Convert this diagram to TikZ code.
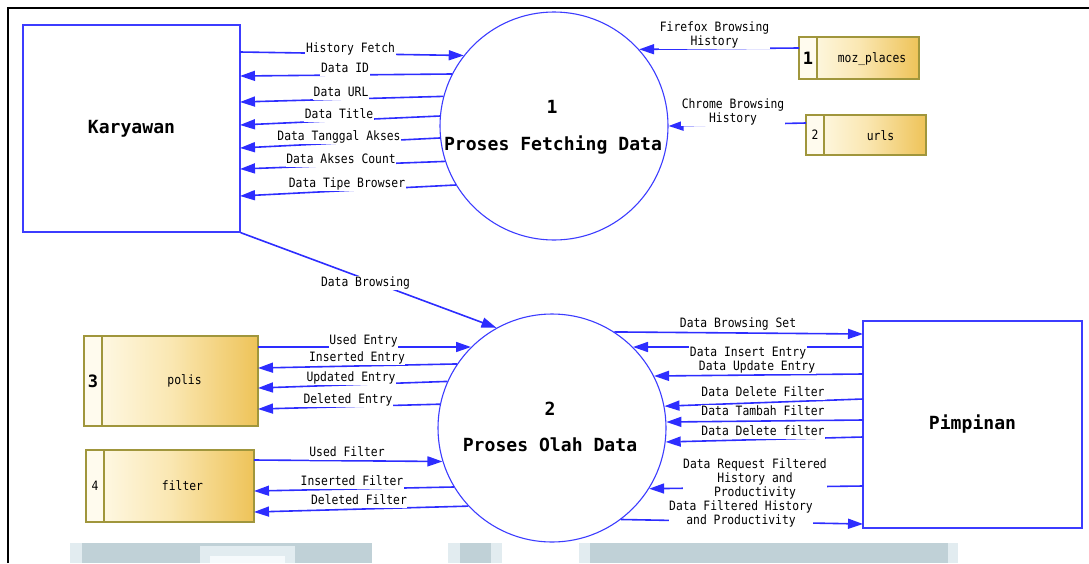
\documentclass[tikz,border=0pt]{standalone}
\usepackage{fontspec}
\setmonofont{DejaVu Sans Mono}
\newfontfamily\smallmono{DejaVu Sans Mono}[FakeStretch=0.88]
\usetikzlibrary{arrows.meta}
\definecolor{flowblue}{RGB}{45,45,255}
\definecolor{edgeblue}{RGB}{60,60,255}
\definecolor{storeedge}{RGB}{160,150,60}
\definecolor{storeL}{RGB}{255,252,238}
\definecolor{storeM}{RGB}{250,231,178}
\definecolor{storeR}{RGB}{238,195,88}
\definecolor{numfill}{RGB}{255,251,238}
\definecolor{haze}{RGB}{192,209,215}
\definecolor{hazelight}{RGB}{226,236,240}
\definecolor{hazepale}{RGB}{246,250,252}

\begin{document}
\begin{tikzpicture}[x=1pt,y=-1pt,
  entity/.style={draw=edgeblue, line width=1.3pt, fill=white, inner sep=0pt,
    font=\ttfamily\bfseries\fontsize{18.1}{21}\selectfont},
  proc/.style={circle, draw=edgeblue, line width=1.1pt, fill=white,
    minimum size=228pt, inner sep=0pt},
  store/.style={draw=storeedge, line width=1.4pt, left color=storeL,
    right color=storeR, middle color=storeM, inner sep=0pt},
  storenum/.style={draw=storeedge, line width=1.4pt, fill=numfill,
    inner sep=0pt, anchor=north west},
  bigtxt/.style={font=\ttfamily\bfseries\fontsize{18.1}{21}\selectfont,
    inner sep=0pt, text height=13.2pt, text depth=0pt},
  numbold/.style={font=\ttfamily\bfseries\fontsize{17}{20}\selectfont},
  numsmall/.style={font=\smallmono\fontsize{12.9}{14}\selectfont},
  txt/.style={font=\smallmono\fontsize{12.9}{14}\selectfont, inner sep=0pt},
  lbl/.style={font=\smallmono\fontsize{12.9}{14}\selectfont, fill=white,
    inner sep=0.6pt, text height=9.4pt, text depth=3pt},
  lblm/.style={font=\smallmono\fontsize{12.9}{14}\selectfont, fill=white,
    inner sep=0.6pt, align=center},
  flow/.style={draw=flowblue, line width=1.6pt,
    -{Triangle[length=15pt,width=10pt]}},
]
\useasboundingbox (0,0) rectangle (1089,563);

% faded strip along the lower edge
\fill[hazelight] (70,543) rectangle (82,563);
\fill[haze] (82,543) rectangle (372,563);
\fill[hazelight] (200,546) rectangle (295,563);
\fill[hazepale] (210,556) rectangle (285,563);
\fill[hazelight] (448,543) rectangle (502,563);
\fill[haze] (460,543) rectangle (491,563);
\fill[hazelight] (579,543) rectangle (958,563);
\fill[haze] (590,543) rectangle (948,563);

% outer frame
\draw[black, line width=2.5pt] (8,563) -- (8,8) -- (1089,8);

% external entities
\node[entity, minimum width=217pt, minimum height=207pt] (kar) at (131.5,128.5) {Karyawan};
\node[entity, minimum width=219pt, minimum height=207pt] (pim) at (972.5,424.5) {Pimpinan};

% processes
\node[proc] (p1) at (554,126) {};
\node[bigtxt] (p1num) at (552,107) {1};
\node[bigtxt] (p1name) at (553,143.5) {Proses Fetching Data};
\node[proc] (p2) at (552,428) {};
\node[bigtxt] (p2num) at (550,408.5) {2};
\node[bigtxt] (p2name) at (550,444.5) {Proses Olah Data};

% data stores
\node[store, minimum width=120pt, minimum height=42pt] (ds1) at (859,58) {};
\node[storenum, minimum width=18pt, minimum height=42pt, numbold] (ds1n) at (ds1.north west) {1};
\node[txt] (ds1t) at (872,59) {moz\_places};

\node[store, minimum width=120pt, minimum height=40pt] (ds2) at (866,135) {};
\node[storenum, minimum width=18pt, minimum height=40pt, numsmall] (ds2n) at (ds2.north west) {2};
\node[txt] (ds2t) at (880.5,136) {urls};

\node[store, minimum width=174pt, minimum height=90pt] (ds3) at (171,381) {};
\node[storenum, minimum width=18pt, minimum height=90pt, numbold] (ds3n) at (ds3.north west) {3};
\node[txt] (ds3t) at (184.5,381) {polis};

\node[store, minimum width=168pt, minimum height=72pt] (ds4) at (170,486) {};
\node[storenum, minimum width=18pt, minimum height=72pt, numsmall] (ds4n) at (ds4.north west) {4};
\node[txt] (ds4t) at (182.5,486) {filter};

% connector ends on the box sides
\coordinate (k1) at (240,52);
\coordinate (k2) at (240,76);
\coordinate (k3) at (240,102);
\coordinate (k4) at (240,125);
\coordinate (k5) at (240,148);
\coordinate (k6) at (240,169);
\coordinate (k7) at (240,196);
\coordinate (s1) at (799,48);
\coordinate (s2) at (806,123);
\coordinate (q1) at (258,347);
\coordinate (q2) at (258,368);
\coordinate (q3) at (258,388);
\coordinate (q4) at (258,409);
\coordinate (f1) at (254,460);
\coordinate (f2) at (254,491);
\coordinate (f3) at (254,512);
\coordinate (m1) at (863,334);
\coordinate (m2) at (863,347);
\coordinate (m3) at (863,374);
\coordinate (m4) at (863,399);
\coordinate (m5) at (863,420);
\coordinate (m6) at (863,437);
\coordinate (m7) at (863,486);
\coordinate (m8) at (863,524);

% Karyawan <-> process 1
\draw[flow] (k1) -- (p1.142.8);
\draw[flow] (p1.153.4) -- (k2);
\draw[flow] (p1.165.3) -- (k3);
\draw[flow] (p1.175) -- (k4);
\draw[flow] (p1.186) -- (k5);
\draw[flow] (p1.198.9) -- (k6);
\draw[flow] (p1.211.2) -- (k7);

% browser stores -> process 1
\draw[flow] (s1) -- (p1.42.5);
\draw[flow] (s2) -- (p1.0.5);

% Karyawan -> process 2
\draw[flow] (kar.south east) -- (p2.119.7);

% polis / filter <-> process 2
\draw[flow] (q1) -- (p2.135.4);
\draw[flow] (p2.146.5) -- (q2);
\draw[flow] (p2.156.8) -- (q3);
\draw[flow] (p2.168.9) -- (q4);
\draw[flow] (f1) -- (p2.197.4);
\draw[flow] (p2.211.8) -- (f2);
\draw[flow] (p2.223.2) -- (f3);

% process 2 <-> Pimpinan
\draw[flow] (p2.57.4) -- (m1);
\draw[flow] (m2) -- (p2.45.3);
\draw[flow] (m3) -- (p2.27.7);
\draw[flow] (m4) -- (p2.11.6);
\draw[flow] (m5) -- (p2.3.5);
\draw[flow] (m6) -- (p2.-7.6);
\draw[flow] (m7) -- (p2.-32.9);
\draw[flow] (p2.-53.8) -- (m8);

% flow labels
\node[lbl] (l1) at (350.5,49.5) {History Fetch};
\node[lbl] (l2) at (345,69.5) {Data ID};
\node[lbl] (l3) at (341,93) {Data URL};
\node[lbl] (l4) at (339,115) {Data Title};
\node[lbl] (l5) at (339,137) {Data Tanggal Akses};
\node[lbl] (l6) at (341,160.5) {Data Akses Count};
\node[lbl] (l7) at (347,184) {Data Tipe Browser};
\node[lblm] (l8) at (714.5,35) {Firefox Browsing\\History};
\node[lblm] (l9) at (733,112) {Chrome Browsing\\History};
\node[lbl] (l10) at (365.5,283) {Data Browsing};
\node[lbl] (l11) at (363.5,341.5) {Used Entry};
\node[lbl] (l12) at (357,358.5) {Inserted Entry};
\node[lbl] (l13) at (351,378.5) {Updated Entry};
\node[lbl] (l14) at (348,400.5) {Deleted Entry};
\node[lbl] (l15) at (347,453) {Used Filter};
\node[lbl] (l16) at (352,482) {Inserted Filter};
\node[lbl] (l17) at (359,501) {Deleted Filter};
\node[lbl] (l18) at (738,324.5) {Data Browsing Set};
\node[lbl] (l19) at (748,353) {Data Insert Entry};
\node[lbl] (l20) at (757,367) {Data Update Entry};
\node[lbl] (l21) at (763,393) {Data Delete Filter};
\node[lbl] (l22) at (763,412) {Data Tambah Filter};
\node[lbl] (l23) at (763,432) {Data Delete filter};
\node[lblm] (l24) at (755,479) {Data Request Filtered\\History and\\Productivity};
\node[lblm] (l25) at (741,514) {Data Filtered History\\and Productivity};
\end{tikzpicture}
\end{document}
